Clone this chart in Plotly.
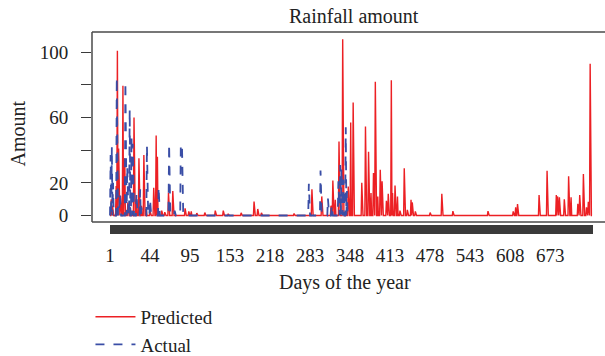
import plotly.graph_objects as go

# ---- data (index of observation, value) ----
n_pred = 784
n_act = 390

pred_idx = [3, 5, 11, 13, 15, 18, 22, 24, 25, 30, 34, 40, 44, 48, 52, 56, 60, 66, 72, 76, 78,
            85, 90, 96, 103, 123, 129, 133, 142, 155, 172, 185, 193, 214, 235, 241, 247, 300,
            329, 345, 360, 363, 367, 373, 379, 388, 392, 396, 410, 416, 421, 425, 429, 432,
            436, 440, 443, 450, 453, 458, 460, 464, 468, 472, 479, 484, 490, 492, 497, 521,
            540, 558, 615, 656, 660, 663, 698, 711, 726, 728, 731, 739, 746, 750, 761, 764,
            770, 775, 778, 781]
pred_val = [10, 6, 18, 101, 41, 12, 79.5, 15, 35, 8, 5, 60, 10, 35, 6, 37, 4, 3, 17, 49, 36,
            3, 2, 14, 15, 4.4, 2.5, 2.5, 1.5, 1.8, 3, 3, 1, 1.6, 8.5, 4, 1.6, 1.2,
            16, 11.7, 6, 21.5, 9.6, 45.4, 108, 17.8, 57, 69.3, 20, 54.6, 39, 13.7, 26, 82,
            11.7, 28, 21, 9, 13.3, 82.8, 13.7, 18.4, 11.7, 3, 29, 3.5, 9.6, 8, 2.5, 1.8,
            13.3, 2.7, 2.7, 2.5, 5, 7, 12.5, 27.4, 12.5, 11.7, 11.2, 10, 24, 11.2, 7.2, 12.5,
            25.4, 5, 8.4, 93]

act_idx = [2, 4, 6, 12, 17, 26, 29, 33, 36, 38, 44, 50, 52, 61, 66, 80, 97, 106, 116, 117,
           118, 324, 343, 355, 361, 372, 375, 377, 380, 384, 386]
act_val = [37, 42, 20, 85, 14, 82, 30, 65, 48.5, 44, 14, 16, 5, 43, 10, 17.5, 44, 3, 42, 40,
           42, 19.4, 27.6, 10.6, 6.5, 21, 31, 29, 22, 54, 15]

label_idx = [1, 66, 131, 196, 261, 326, 391, 456, 521, 586, 651, 716]
label_text = ["1", "44", "95", "153", "218", "283", "348", "413", "478", "543", "608", "673"]

y_tickvals = [0, 20, 40, 60, 80, 100]
y_ticktext = ["0", "20", "", "60", "", "100"]

# ---- build series ----
pred_x = list(range(1, n_pred + 1))
pred_y = [0.0] * n_pred
for i, v in zip(pred_idx, pred_val):
    pred_y[i - 1] = v

act_x = list(range(1, n_act + 1))
act_y = [0.0] * n_act
for i, v in zip(act_idx, act_val):
    act_y[i - 1] = v

FONT = "Liberation Serif"
RED = "#ec2024"
BLUE = "#3a4ea6"
AX = "#3a3a3a"

fig = go.Figure()
fig.add_trace(go.Scatter(x=pred_x, y=pred_y, mode="lines", name="Predicted",
                         line=dict(color=RED, width=1.4)))
fig.add_trace(go.Scatter(x=act_x, y=act_y, mode="lines", name="Actual",
                         line=dict(color=BLUE, width=1.8, dash="dash")))

fig.update_layout(
    width=605, height=356,
    margin=dict(l=92, r=0, t=32, b=132, autoexpand=False),
    paper_bgcolor="white", plot_bgcolor="white",
    font=dict(family=FONT, size=19, color="#222"),
    showlegend=True,
    legend=dict(x=-0.003, y=-0.385, xanchor="left", yanchor="top",
                bgcolor="rgba(0,0,0,0)", font=dict(size=19, family=FONT),
                tracegroupgap=0, itemwidth=40),
    xaxis=dict(range=[-28.24, 805.1], showgrid=False, zeroline=False, showline=False,
               tickmode="array", tickvals=label_idx, ticktext=label_text, tickangle=0,
               ticks="outside", ticklen=9, tickwidth=1, tickcolor=AX,
               ticklabelstandoff=5,
               minor=dict(tickmode="array", tickvals=pred_x, ticks="outside", ticklen=9,
                          tickwidth=1, tickcolor=AX, showgrid=False),
               tickfont=dict(size=19, family=FONT, color="#222")),
    yaxis=dict(range=[-5.21, 112.44], showgrid=False, zeroline=False, showline=False,
               tickmode="array", tickvals=y_tickvals, ticktext=y_ticktext,
               ticks="outside", ticklen=10, tickwidth=1.2, tickcolor=AX,
               ticklabelstandoff=9,
               tickfont=dict(size=19, family=FONT, color="#222")),
)

# box (open on the right, as in the reference)
box_line = dict(color="#4a4a4a", width=1.5)
fig.add_shape(type="line", xref="paper", yref="paper", x0=0, x1=1.02, y0=1, y1=1, line=box_line)
fig.add_shape(type="line", xref="paper", yref="paper", x0=0, x1=1.02, y0=0.0104, y1=0.0104, line=box_line)
fig.add_shape(type="line", xref="paper", yref="paper", x0=0, x1=0, y0=0.0104, y1=1, line=box_line)

fig.add_annotation(text="Rainfall amount", xref="paper", yref="paper", x=0.5107, y=1.0833,
                   xanchor="center", yanchor="middle", showarrow=False,
                   font=dict(size=20, family=FONT, color="#222"))
fig.add_annotation(text="Days of the year", xref="paper", yref="paper", x=0.494, y=-0.307,
                   xanchor="center", yanchor="middle", showarrow=False,
                   font=dict(size=20, family=FONT, color="#222"))
fig.add_annotation(text="Amount", xref="paper", yref="paper", x=-0.1433, y=0.474,
                   xanchor="center", yanchor="middle", showarrow=False, textangle=-90,
                   font=dict(size=20, family=FONT, color="#222"))

fig.write_html("out.html")
